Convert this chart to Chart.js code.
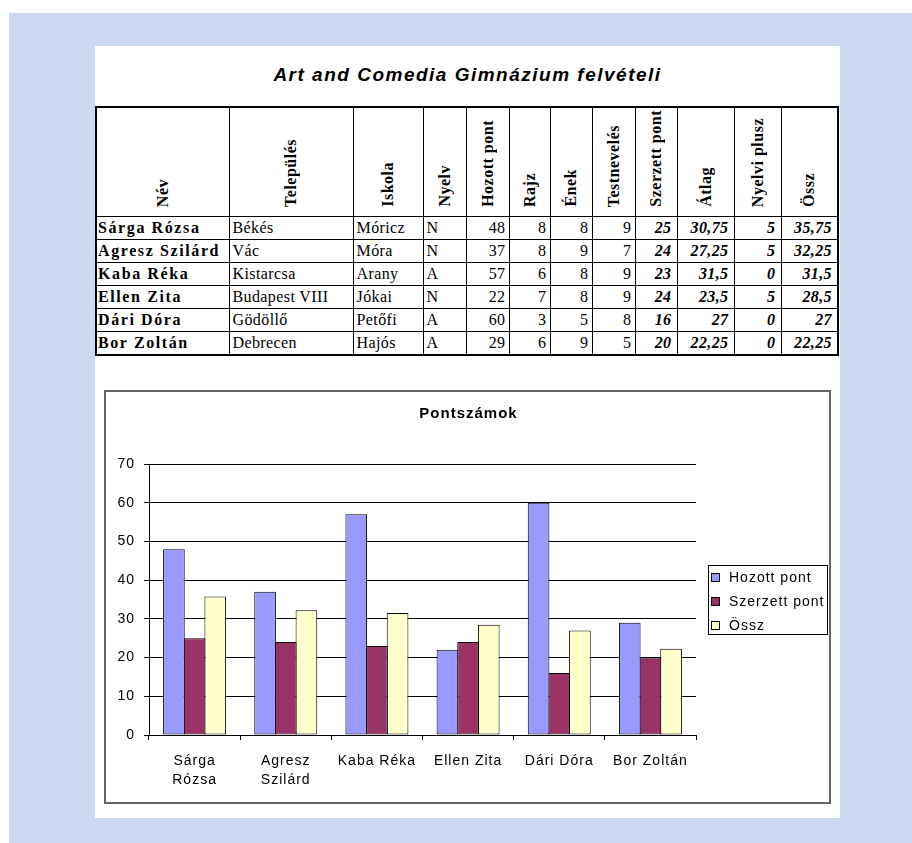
<!DOCTYPE html>
<html lang="hu">
<head>
<meta charset="utf-8">
<title>Art and Comedia Gimnázium felvételi</title>
<script src="https://cdn.jsdelivr.net/npm/chart.js@4/dist/chart.umd.min.js"></script>
<style>
  html, body { margin: 0; padding: 0; width: 912px; height: 843px; overflow: hidden; background: #fff; }
  #bg { position: absolute; left: 9px; top: 13px; width: 903px; height: 830px; background: #CDD9F2; }
  #sheet { position: absolute; left: 95px; top: 46px; width: 745px; height: 772px; background: #fff; }
  #title {
    position: absolute; left: 0; top: 18px; width: 745px; text-align: center;
    font: italic bold 19px "Liberation Sans", Arial, sans-serif; line-height: 22px;
    letter-spacing: 1.5px; color: #000;
  }
  table {
    position: absolute; left: 0; top: 60px;
    border-collapse: collapse; table-layout: fixed;
    border: 2px solid #000;
    font-family: "Liberation Serif", "Times New Roman", serif; font-size: 16px; color: #000;
  }
  th, td { border: 1px solid #000; padding: 0; overflow: hidden; white-space: nowrap; }
  th { height: 103px; vertical-align: bottom; text-align: center; font-weight: bold; padding-bottom: 5px; }
  th span { display: inline-block; writing-mode: vertical-rl; transform: rotate(180deg); letter-spacing: 0.5px; line-height: 18px; }
  td { height: 20px; vertical-align: bottom; line-height: 18px; padding: 0 3px 2px 3px; letter-spacing: 0.4px; }
  td.name { font-weight: bold; letter-spacing: 1.6px; padding-left: 1px; }
  td.num { text-align: right; }
  td.bi { text-align: right; font-weight: bold; font-style: italic; padding-right: 5px; }
  #chartBox { position: absolute; left: 9px; top: 344px; width: 723px; height: 410px; border: 2px solid #666; background: #fff; }
  #chartBox canvas { display: block; }
</style>
</head>
<body>
<div id="bg"></div>
<div id="sheet">
  <div id="title">Art and Comedia Gimnázium felvételi</div>
  <table id="scores"></table>
  <div id="chartBox"><canvas id="chart" width="723" height="410"></canvas></div>
</div>
<script>
// Felvételi adatok
const headers = ['Név', 'Település', 'Iskola', 'Nyelv', 'Hozott pont', 'Rajz', 'Ének',
                 'Testnevelés', 'Szerzett pont', 'Átlag', 'Nyelvi plusz', 'Össz'];
const names = ['Sárga Rózsa', 'Agresz Szilárd', 'Kaba Réka', 'Ellen Zita', 'Dári Dóra', 'Bor Zoltán'];
const towns = ['Békés', 'Vác', 'Kistarcsa', 'Budapest VIII', 'Gödöllő', 'Debrecen'];
const schools = ['Móricz', 'Móra', 'Arany', 'Jókai', 'Petőfi', 'Hajós'];
const languages = ['N', 'N', 'A', 'N', 'A', 'A'];
const hozottPont = [48, 37, 57, 22, 60, 29];
const rajz = [8, 8, 6, 7, 3, 6];
const enek = [8, 9, 8, 8, 5, 9];
const testneveles = [9, 7, 9, 9, 8, 5];
const szerzettPont = [25, 24, 23, 24, 16, 20];
const atlag = [30.75, 27.25, 31.5, 23.5, 27, 22.25];
const nyelviPlusz = [5, 5, 0, 5, 0, 0];
const ossz = [35.75, 32.25, 31.5, 28.5, 27, 22.25];

// Diagram kategóriái (többsoros feliratok)
const chartLabels = [['Sárga', 'Rózsa'], ['Agresz', 'Szilárd'], 'Kaba Réka', 'Ellen Zita', 'Dári Dóra', 'Bor Zoltán'];
const chartTitle = 'Pontszámok';

const colWidths = [133, 124, 70, 43, 43, 41, 42, 43, 42, 57, 47, 57];

// --- táblázat ---
const fmt = v => String(v).replace('.', ',');
const table = document.getElementById('scores');
let html = '<colgroup>' + colWidths.map(w => `<col style="width:${w}px">`).join('') + '</colgroup>';
html += '<tr>' + headers.map(h => `<th><span>${h}</span></th>`).join('') + '</tr>';
names.forEach((n, i) => {
  html += '<tr>' +
    `<td class="name">${n}</td>` +
    `<td>${towns[i]}</td>` +
    `<td>${schools[i]}</td>` +
    `<td>${languages[i]}</td>` +
    `<td class="num">${hozottPont[i]}</td>` +
    `<td class="num">${rajz[i]}</td>` +
    `<td class="num">${enek[i]}</td>` +
    `<td class="num">${testneveles[i]}</td>` +
    `<td class="bi">${fmt(szerzettPont[i])}</td>` +
    `<td class="bi">${fmt(atlag[i])}</td>` +
    `<td class="bi">${fmt(nyelviPlusz[i])}</td>` +
    `<td class="bi">${fmt(ossz[i])}</td>` +
    '</tr>';
});
table.innerHTML = html;

// --- diagram ---
const FONT = '"Liberation Sans", Arial, sans-serif';

// tágabb betűköz a vászon szövegeihez
const letterSpacing = {
  id: 'letterSpacing',
  beforeUpdate(chart) { chart.ctx.letterSpacing = '1px'; },
  beforeDraw(chart) { chart.ctx.letterSpacing = '1px'; }
};

// cím a teljes diagramkeret közepén
const centeredTitle = {
  id: 'centeredTitle',
  afterDraw(chart) {
    const { ctx, width } = chart;
    ctx.save();
    ctx.letterSpacing = '1px';
    ctx.font = 'bold 15px ' + FONT;
    ctx.fillStyle = '#000';
    ctx.textAlign = 'center';
    ctx.textBaseline = 'middle';
    ctx.fillText(chartTitle, width / 2 + 1, 22);
    ctx.restore();
  }
};

// keretezett jelmagyarázat a rajzterülettől jobbra
const boxedLegend = {
  id: 'boxedLegend',
  afterDraw(chart) {
    const { ctx, chartArea } = chart;
    const w = 119, h = 69, rowH = 23.8;
    const x = Math.round(chartArea.right + 12);
    const y = Math.round((chartArea.top + chartArea.bottom) / 2 - h / 2);
    ctx.save();
    ctx.letterSpacing = '1px';
    ctx.lineWidth = 1;
    ctx.strokeStyle = '#000';
    ctx.strokeRect(x + 0.5, y + 0.5, w, h);
    ctx.font = '14px ' + FONT;
    ctx.textBaseline = 'middle';
    ctx.textAlign = 'left';
    chart.data.datasets.forEach((ds, i) => {
      const cy = Math.round(y + 12 + i * rowH);
      ctx.fillStyle = ds.backgroundColor;
      ctx.fillRect(x + 3, cy - 4, 9, 9);
      ctx.strokeRect(x + 3.5, cy - 3.5, 8, 8);
      ctx.fillStyle = '#000';
      ctx.fillText(ds.label, x + 21, cy + 1);
    });
    ctx.restore();
  }
};

new Chart(document.getElementById('chart'), {
  type: 'bar',
  data: {
    labels: chartLabels,
    datasets: [
      { label: 'Hozott pont', data: hozottPont, backgroundColor: '#9999FF' },
      { label: 'Szerzett pont', data: szerzettPont, backgroundColor: '#993366' },
      { label: 'Össz', data: ossz, backgroundColor: '#FFFFCC' }
    ]
  },
  options: {
    responsive: false,
    devicePixelRatio: 1,
    animation: false,
    layout: { padding: { left: 0, right: 133, top: 72, bottom: 0 } },
    datasets: {
      bar: {
        categoryPercentage: 0.68,
        barPercentage: 1.048,
        borderWidth: 1,
        borderColor: '#000',
        borderSkipped: false
      }
    },
    plugins: {
      legend: { display: false },
      tooltip: { enabled: false },
      title: { display: false }
    },
    scales: {
      x: {
        grid: { display: true, drawOnChartArea: false, drawTicks: true, tickLength: 5, color: '#000', offset: true },
        border: { display: true, color: '#000' },
        ticks: {
          color: '#000', font: { family: FONT, size: 14, lineHeight: 1.357 },
          padding: 12, maxRotation: 0, autoSkip: false
        },
        afterFit(scale) { scale.height = 67; }
      },
      y: {
        min: 0, max: 70,
        grid: { color: '#000', lineWidth: 1, tickLength: 5, drawTicks: true },
        border: { display: true, color: '#000' },
        ticks: { stepSize: 10, color: '#000', font: { family: FONT, size: 14 }, padding: 9 },
        afterFit(scale) { scale.width = 43; }
      }
    }
  },
  plugins: [letterSpacing, centeredTitle, boxedLegend]
});
</script>
</body>
</html>
